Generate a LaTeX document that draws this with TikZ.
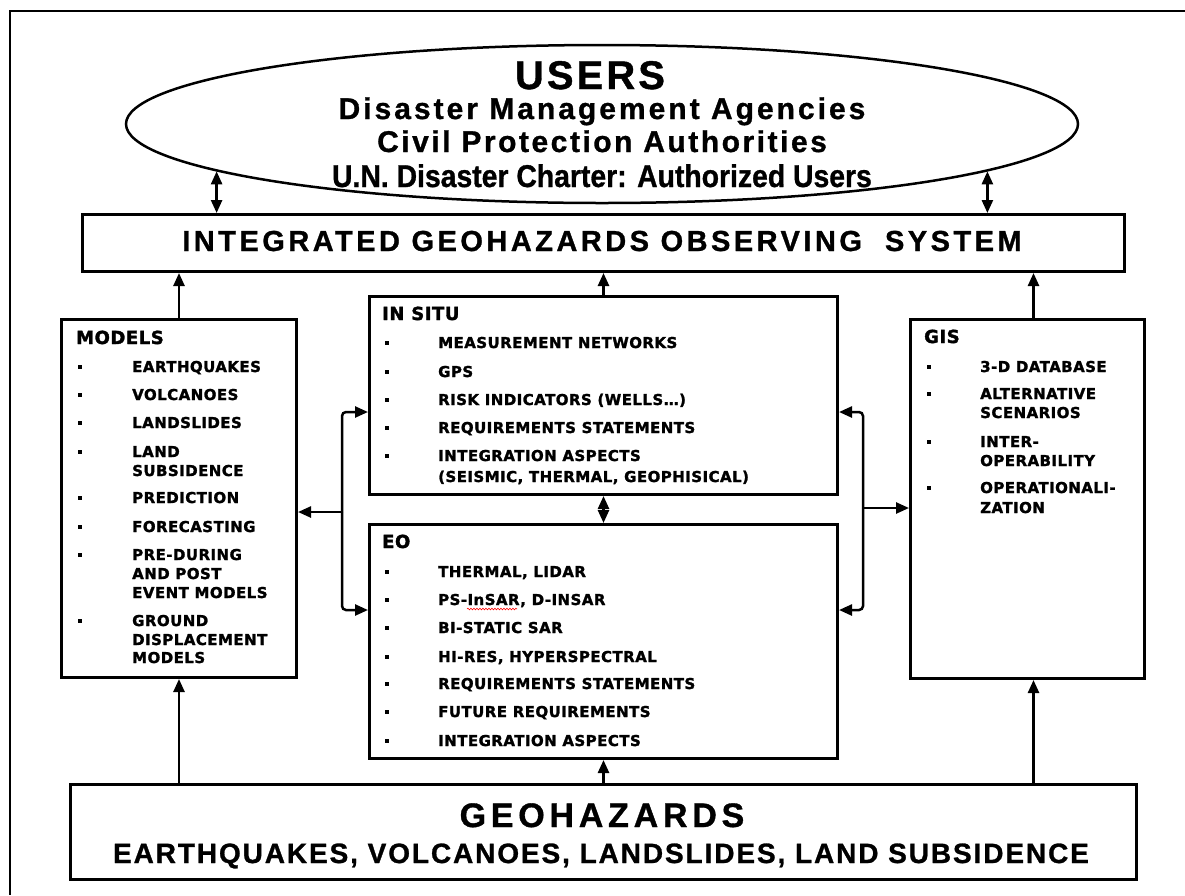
\documentclass[tikz,border=0pt]{standalone}
\usepackage{fontspec}
\setmainfont{Liberation Sans}
\newfontfamily\lsans{Liberation Sans}
\newfontfamily\dvb{DejaVu Sans}
\usetikzlibrary{arrows.meta,shapes.geometric,decorations.pathmorphing}
\newcommand\bigtxt[3]{{\fontsize{#1}{#1}\lsans\bfseries\addfontfeatures{LetterSpace=#2,FakeBold=1}#3}}
\newcommand\itemfont{\fontsize{15}{15}\dvb\bfseries\addfontfeatures{LetterSpace=3,FakeBold=1.6}}
\newcommand\headfont{\fontsize{18}{18}\dvb\bfseries\addfontfeatures{LetterSpace=3,FakeBold=1.8}}
\newcommand\boxitem[5]{%
  \node[bul] (#1-dot) at (#2+2,#4-5) {};
  \node[itm] (#1) at (#3,#4) {#5};}
\newcommand\boxline[4]{\node[itm] (#1) at (#2,#3) {#4};}
\tikzset{
  box/.style={draw, line width=3pt, inner sep=0pt, anchor=north west},
  arr/.style={line width=2.5pt, -{Triangle[length=13pt,width=11pt]}},
  darr/.style={line width=2.5pt, {Triangle[length=13pt,width=11pt]}-{Triangle[length=13pt,width=11pt]}},
  bul/.style={fill, inner sep=0pt, minimum size=4.5pt},
  itm/.style={anchor=base west, inner sep=0pt, font=\itemfont},
  hd/.style={anchor=base west, inner sep=0pt, font=\headfont},
  big/.style={anchor=base, inner sep=0pt},
}
\begin{document}
\begin{tikzpicture}[x=1pt,y=-1pt]
\useasboundingbox (0,0) rectangle (1185,895);
% frame
\draw[line width=2pt] (1185,11) -- (10,11) -- (10,895);

% users ellipse
\node[draw, ellipse, line width=2.5pt, minimum width=952pt, minimum height=158pt, inner sep=0pt] (users) at (602,124) {};
\node[big] (usersT) at (590,89) {\bigtxt{40}{7.6}{USERS}};
\node[big] (dma) at (602,119) {\bigtxt{30}{10}{Disaster Management Agencies}};
\node[big] (cpa) at (602,152) {\bigtxt{30}{8.4}{Civil Protection Authorities}};
\node[big] (unc) at (602,187) {\scalebox{0.9}[1]{\bigtxt{31.5}{0}{U.N. Disaster Charter: Authorized Users}}};

% boxes
\node[box, minimum width=1042pt, minimum height=57pt] (igos) at (81,213) {};
\node[big] (igosT) at (602,251) {\bigtxt{29}{12}{INTEGRATED GEOHAZARDS OBSERVING~~SYSTEM}};
\node[box, minimum width=235pt, minimum height=358pt] (models) at (60,318) {};
\node[box, minimum width=468pt, minimum height=198pt] (insitu) at (368,295) {};
\node[box, minimum width=468pt, minimum height=234pt] (eo) at (368,523) {};
\node[box, minimum width=234pt, minimum height=359pt] (gis) at (909,318) {};
\node[box, minimum width=1066pt, minimum height=95pt] (geo) at (69,783) {};
\node[big] (geoT) at (602,827) {\bigtxt{34}{14}{GEOHAZARDS}};
\node[big] (geoL) at (601,863) {\bigtxt{28}{6.8}{EARTHQUAKES, VOLCANOES, LANDSLIDES, LAND SUBSIDENCE}};

% MODELS
\node[hd] (mh) at (76,344) {MODELS};
\boxitem{m1}{78}{132}{372}{EARTHQUAKES}
\boxitem{m2}{78}{132}{400}{VOLCANOES}
\boxitem{m3}{78}{132}{428}{LANDSLIDES}
\boxitem{m4}{78}{132}{457}{LAND}
\boxline{m4b}{132}{476}{SUBSIDENCE}
\boxitem{m5}{78}{132}{503}{PREDICTION}
\boxitem{m6}{78}{132}{532}{FORECASTING}
\boxitem{m7}{78}{132}{560}{PRE-DURING}
\boxline{m7b}{132}{579}{AND POST}
\boxline{m7c}{132}{598}{EVENT MODELS}
\boxitem{m8}{78}{132}{626}{GROUND}
\boxline{m8b}{132}{645}{DISPLACEMENT}
\boxline{m8c}{132}{663}{MODELS}

% IN SITU
\node[hd] (ih) at (382,320) {IN SITU};
\boxitem{i1}{385}{438}{348}{MEASUREMENT NETWORKS}
\boxitem{i2}{385}{438}{377}{GPS}
\boxitem{i3}{385}{438}{405}{RISK INDICATORS (WELLS…)}
\boxitem{i4}{385}{438}{433}{REQUIREMENTS STATEMENTS}
\boxitem{i5}{385}{438}{461}{INTEGRATION ASPECTS}
\boxline{i5b}{438}{482}{(SEISMIC, THERMAL, GEOPHISICAL)}

% EO
\node[hd] (eh) at (382,548) {EO};
\boxitem{e1}{385}{438}{577}{THERMAL, LIDAR}
\boxitem{e2}{385}{438}{605}{PS-InSAR, D-INSAR}
\boxitem{e3}{385}{438}{633}{BI-STATIC SAR}
\boxitem{e4}{385}{438}{662}{HI-RES, HYPERSPECTRAL}
\boxitem{e5}{385}{438}{689}{REQUIREMENTS STATEMENTS}
\boxitem{e6}{385}{438}{717}{FUTURE REQUIREMENTS}
\boxitem{e7}{385}{438}{746}{INTEGRATION ASPECTS}
\draw[red, line width=0.6pt, decorate, decoration={snake, amplitude=0.8pt, segment length=3pt}] (467,609) -- (517,609);

% GIS
\node[hd] (gh) at (924,343) {GIS};
\boxitem{g1}{927}{980}{372}{3-D DATABASE}
\boxitem{g2}{927}{980}{399}{ALTERNATIVE}
\boxline{g2b}{980}{418}{SCENARIOS}
\boxitem{g3}{927}{980}{447}{INTER-}
\boxline{g3b}{980}{466}{OPERABILITY}
\boxitem{g4}{927}{980}{493}{OPERATIONALI-}
\boxline{g4b}{980}{513}{ZATION}

% connectors
\draw[darr] (users.187.5) -- (users.187.5 |- igos.north);
\draw[darr] (users.353.4) -- (users.353.4 |- igos.north);
\coordinate (gtop) at ([xshift=6pt]gis.north);
\coordinate (gbot) at ([xshift=6pt]gis.south);
\draw[arr] (models.north) -- (models.north |- igos.south);
\draw[arr] (insitu.north) -- (insitu.north |- igos.south);
\draw[arr] (gtop) -- (gtop |- igos.south);
\draw[arr] (models.south |- geo.north) -- (models.south);
\draw[arr] (eo.south |- geo.north) -- (eo.south);
\draw[arr] (gbot |- geo.north) -- (gbot);
\draw[darr] (insitu.south) -- (eo.north);

\coordinate (lj) at (342,512);
\coordinate (la) at (342,412);
\coordinate (lb) at (342,610);
\draw[arr] (lj) -- (lj -| models.east);
\draw[arr, rounded corners=4pt] (lj) -- (la) -- (la -| insitu.west);
\draw[arr, rounded corners=4pt] (lj) -- (lb) -- (lb -| eo.west);

\coordinate (rj) at (863,508);
\coordinate (ra) at (863,412);
\coordinate (rb) at (863,610);
\draw[arr] (rj) -- (rj -| gis.west);
\draw[arr, rounded corners=4pt] (rj) -- (ra) -- (ra -| insitu.east);
\draw[arr, rounded corners=4pt] (rj) -- (rb) -- (rb -| eo.east);
\end{tikzpicture}
\end{document}
